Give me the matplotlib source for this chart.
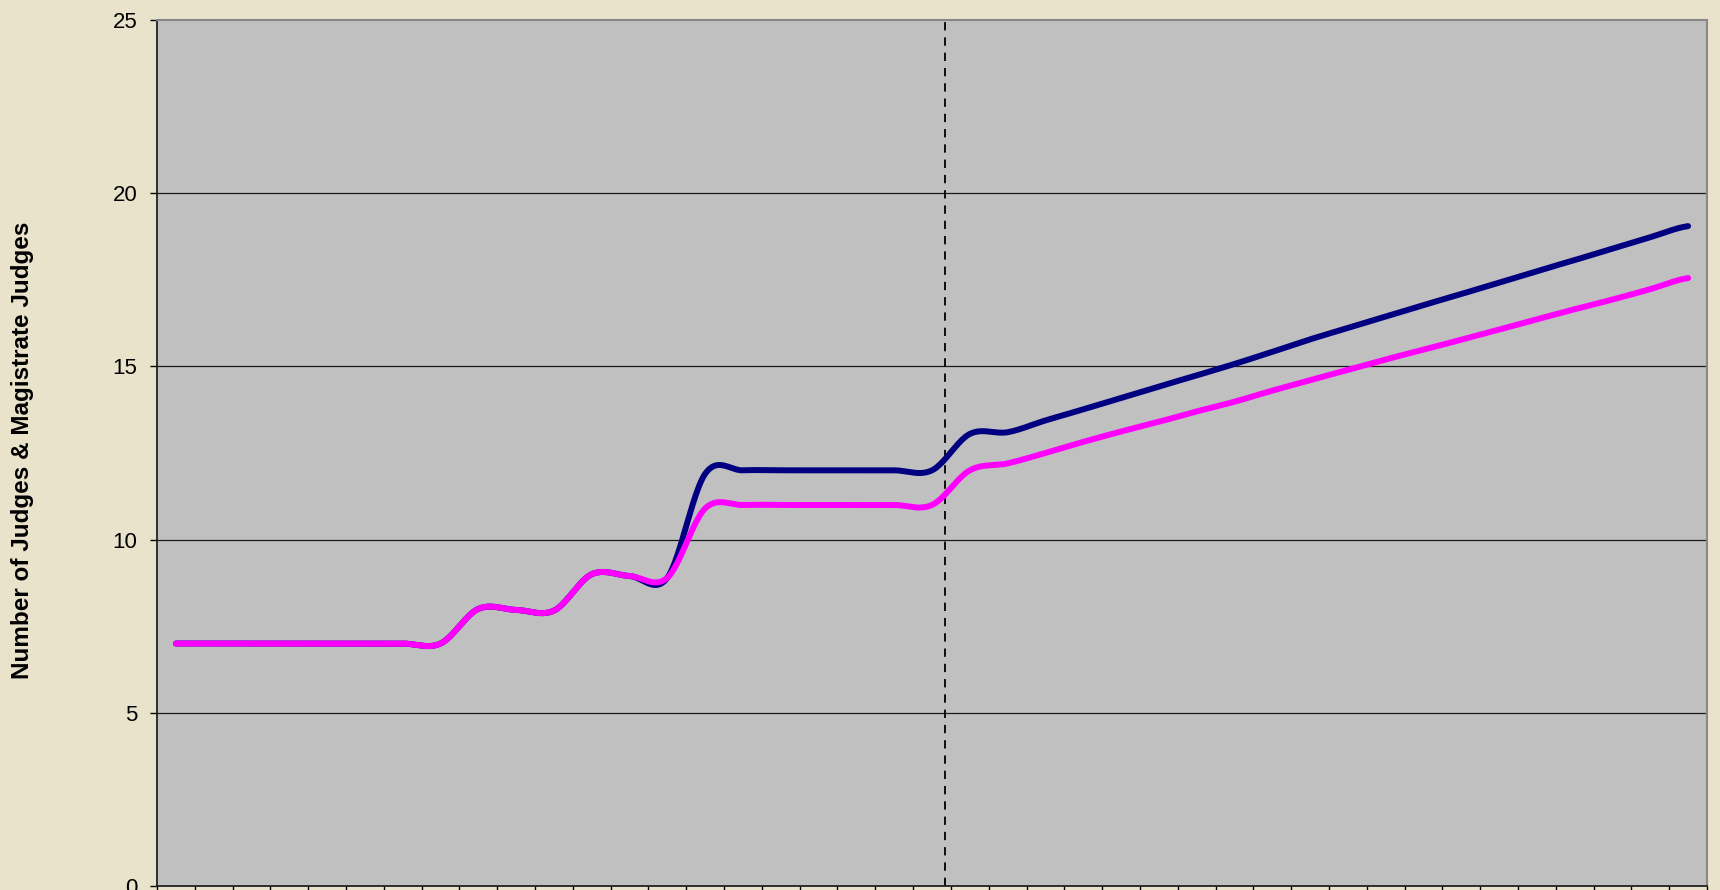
import numpy as np
import matplotlib
matplotlib.use("Agg")
import matplotlib.pyplot as plt

plt.rcParams['font.family'] = ['Liberation Sans', 'DejaVu Sans']
plt.rcParams['lines.scale_dashes'] = False

# one value per year (category)
judges = [7, 7, 7, 7, 7, 7, 7, 7, 8.0, 7.97, 7.95, 9.0, 8.95, 8.9, 11.9,
          12.0, 12.0, 12.0, 12.0, 12.0, 12.0, 13.05, 13.1, 13.44, 13.76,
          14.09, 14.42, 14.74, 15.07, 15.42, 15.78, 16.11, 16.44, 16.77,
          17.09, 17.42, 17.75, 18.07, 18.4, 18.73, 19.05]
judges_low = [7, 7, 7, 7, 7, 7, 7, 7, 8.0, 7.97, 7.95, 9.0, 8.95, 8.9, 10.9,
              11.0, 11.0, 11.0, 11.0, 11.0, 11.0, 12.0, 12.2, 12.5, 12.82,
              13.12, 13.4, 13.7, 13.98, 14.3, 14.6, 14.9, 15.2, 15.48,
              15.77, 16.06, 16.36, 16.65, 16.93, 17.23, 17.55]
projection_start = 20.34  # position of the dashed divider, in categories
y_ticks = [0, 5, 10, 15, 20, 25]
y_label = "Number of Judges & Magistrate Judges"


def smooth(y, n=24):
    # Catmull-Rom smoothing like Excel's "smoothed line"
    y = np.asarray(y, float)
    p = np.concatenate([[y[0]], y, [y[-1]]])
    xs, ys = [], []
    for i in range(len(y) - 1):
        p0, p1, p2, p3 = p[i], p[i + 1], p[i + 2], p[i + 3]
        m1 = (p2 - p0) / 2
        m2 = (p3 - p1) / 2
        t = np.linspace(0, 1, n, endpoint=False)
        h00 = 2 * t**3 - 3 * t**2 + 1
        h10 = t**3 - 2 * t**2 + t
        h01 = -2 * t**3 + 3 * t**2
        h11 = t**3 - t**2
        xs.append(i + t)
        ys.append(h00 * p1 + h10 * m1 + h01 * p2 + h11 * m2)
    xs.append([len(y) - 1])
    ys.append([y[-1]])
    return np.concatenate(xs), np.concatenate(ys)


fig = plt.figure(figsize=(17.2, 8.9), dpi=100)
fig.patch.set_facecolor('#EAE3CB')
ax = fig.add_axes([157 / 1720, 4 / 890, 1550 / 1720, 866 / 890])
ax.set_facecolor('#C0C0C0')

n = len(judges)
ax.set_xlim(-0.5, n - 0.5)
ax.set_ylim(0, 25)

for val in y_ticks[1:-1]:
    ax.axhline(val, color='#1a1a1a', lw=0.9, zorder=1)

ax.axvline(projection_start, color='black', lw=1.3, dashes=(6, 5), zorder=2)

x, y = smooth(judges)
ax.plot(x, y, color='#000080', lw=4.3, solid_capstyle='round',
        solid_joinstyle='round', zorder=3)
x, y = smooth(judges_low)
ax.plot(x, y, color='#FF00FF', lw=4.3, solid_capstyle='round',
        solid_joinstyle='round', zorder=4)

ax.set_yticks(y_ticks)
ax.set_xticks(np.arange(n + 1) - 0.5)
ax.set_xticklabels([])
ax.tick_params(axis='y', direction='out', length=5, width=1, pad=9,
               labelsize=16, colors='black')
ax.tick_params(axis='x', direction='out', length=4, width=1)

for side in ['left', 'bottom']:
    ax.spines[side].set_color('#222222')
    ax.spines[side].set_linewidth(1.3)
for side in ['top', 'right']:
    ax.spines[side].set_color('#888888')
    ax.spines[side].set_linewidth(1.5)

fig.text(23 / 1720, 1 - 450 / 890, y_label, rotation=90, ha='center',
         va='center', fontsize=17.5, fontweight='bold')

fig.savefig('out.png', dpi=100, facecolor=fig.get_facecolor())
